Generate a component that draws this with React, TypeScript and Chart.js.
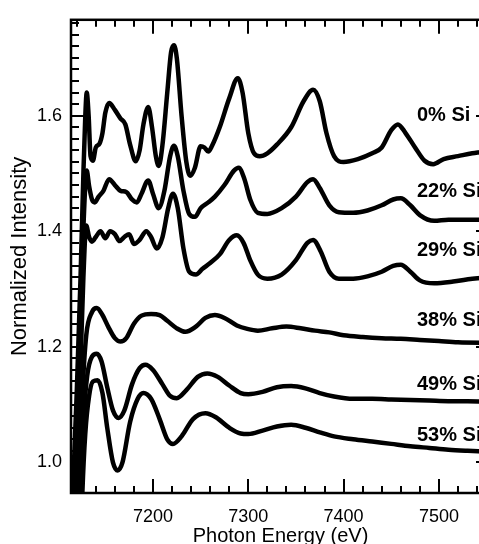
import React, { useEffect, useRef } from 'react';
import { Chart, registerables } from 'chart.js';

Chart.register(...registerables);

// ---- data ----
const seriesNames = ['0% Si', '22% Si', '29% Si', '38% Si', '49% Si', '53% Si'];

const energy0 = [7110, 7116, 7120, 7124, 7127, 7129, 7130.5, 7132.5, 7134.5, 7137, 7140, 7144, 7147, 7150, 7154, 7160, 7166, 7171, 7176, 7182, 7186, 7190, 7195, 7199, 7203, 7206, 7210, 7215, 7219, 7222, 7225, 7230, 7235, 7239, 7244, 7250, 7254, 7258, 7262, 7270, 7280, 7289, 7294, 7300, 7306, 7312, 7320, 7330, 7345, 7358, 7368, 7375, 7382, 7390, 7400, 7415, 7430, 7440, 7450, 7457, 7465, 7475, 7485, 7494, 7505, 7520, 7535, 7555];
const intensity0 = [0.60, 0.95, 1.12, 1.32, 1.50, 1.60, 1.64, 1.60, 1.53, 1.522, 1.545, 1.552, 1.57, 1.605, 1.622, 1.61, 1.595, 1.585, 1.55, 1.521, 1.54, 1.585, 1.615, 1.58, 1.53, 1.513, 1.55, 1.64, 1.71, 1.722, 1.70, 1.60, 1.52, 1.496, 1.51, 1.547, 1.545, 1.538, 1.548, 1.58, 1.63, 1.665, 1.64, 1.57, 1.535, 1.53, 1.535, 1.55, 1.58, 1.625, 1.645, 1.625, 1.57, 1.53, 1.52, 1.525, 1.535, 1.545, 1.575, 1.585, 1.57, 1.545, 1.522, 1.516, 1.525, 1.53, 1.535, 1.538];

const energy22 = [7112, 7118, 7122, 7126, 7129, 7130.5, 7133, 7136, 7139, 7143, 7148, 7154, 7160, 7166, 7172, 7178, 7183, 7188, 7195, 7200, 7206, 7212, 7218, 7222, 7226, 7232, 7238, 7244, 7250, 7258, 7265, 7275, 7285, 7290, 7296, 7302, 7310, 7320, 7335, 7350, 7362, 7368, 7375, 7385, 7395, 7410, 7425, 7440, 7452, 7460, 7470, 7480, 7495, 7510, 7530, 7555];
const intensity22 = [0.60, 0.95, 1.15, 1.36, 1.48, 1.505, 1.478, 1.455, 1.45, 1.46, 1.47, 1.49, 1.48, 1.47, 1.468, 1.455, 1.45, 1.465, 1.488, 1.465, 1.44, 1.47, 1.53, 1.548, 1.53, 1.47, 1.43, 1.425, 1.44, 1.45, 1.46, 1.48, 1.505, 1.51, 1.49, 1.455, 1.432, 1.43, 1.44, 1.46, 1.485, 1.49, 1.475, 1.445, 1.433, 1.432, 1.436, 1.445, 1.455, 1.457, 1.445, 1.428, 1.418, 1.42, 1.42, 1.42];

const energy29 = [7114, 7120, 7124, 7127, 7130, 7133, 7136, 7140, 7145, 7150, 7155, 7160, 7165, 7170, 7175, 7180, 7186, 7193, 7198, 7204, 7210, 7216, 7221, 7226, 7232, 7238, 7245, 7252, 7260, 7270, 7280, 7288, 7295, 7302, 7310, 7320, 7335, 7350, 7362, 7368, 7376, 7385, 7395, 7410, 7425, 7440, 7452, 7460, 7470, 7480, 7495, 7515, 7535, 7555];
const intensity29 = [0.60, 0.95, 1.17, 1.32, 1.41, 1.39, 1.382, 1.39, 1.40, 1.388, 1.40, 1.395, 1.383, 1.39, 1.395, 1.378, 1.385, 1.40, 1.39, 1.37, 1.39, 1.44, 1.465, 1.44, 1.37, 1.33, 1.325, 1.335, 1.345, 1.36, 1.385, 1.393, 1.38, 1.35, 1.325, 1.318, 1.325, 1.35, 1.38, 1.385, 1.365, 1.33, 1.318, 1.318, 1.322, 1.33, 1.34, 1.342, 1.33, 1.315, 1.31, 1.313, 1.318, 1.32];

const energy38 = [7116, 7122, 7126, 7130, 7136, 7141, 7147, 7153, 7160, 7166, 7172, 7180, 7188, 7198, 7207, 7215, 7225, 7234, 7245, 7255, 7265, 7275, 7288, 7299, 7310, 7325, 7340, 7355, 7370, 7385, 7400, 7420, 7440, 7460, 7480, 7500, 7520, 7555];
const intensity38 = [0.60, 0.95, 1.12, 1.22, 1.26, 1.267, 1.255, 1.235, 1.215, 1.209, 1.215, 1.24, 1.254, 1.257, 1.255, 1.245, 1.232, 1.226, 1.235, 1.25, 1.255, 1.25, 1.237, 1.231, 1.228, 1.232, 1.235, 1.232, 1.228, 1.225, 1.22, 1.217, 1.215, 1.214, 1.212, 1.21, 1.208, 1.207];

const energy49 = [7118, 7124, 7127, 7131, 7136, 7141, 7146, 7152, 7158, 7164, 7170, 7178, 7186, 7192, 7200, 7210, 7218, 7225, 7235, 7247, 7257, 7268, 7280, 7292, 7300, 7315, 7330, 7345, 7360, 7375, 7390, 7410, 7430, 7450, 7470, 7490, 7510, 7530, 7555];
const intensity49 = [0.60, 0.95, 1.07, 1.15, 1.183, 1.188, 1.175, 1.13, 1.09, 1.077, 1.09, 1.135, 1.163, 1.169, 1.16, 1.135, 1.115, 1.111, 1.125, 1.148, 1.154, 1.148, 1.133, 1.12, 1.118, 1.122, 1.13, 1.132, 1.128, 1.12, 1.114, 1.11, 1.11, 1.109, 1.108, 1.107, 1.106, 1.106, 1.105];

const energy53 = [7120, 7126, 7129, 7133, 7137, 7142, 7147, 7152, 7158, 7163, 7168, 7176, 7184, 7190, 7198, 7207, 7215, 7221, 7230, 7242, 7255, 7266, 7280, 7292, 7300, 7315, 7330, 7345, 7360, 7375, 7390, 7410, 7430, 7450, 7470, 7490, 7510, 7530, 7555];
const intensity53 = [0.60, 0.95, 1.05, 1.115, 1.14, 1.142, 1.12, 1.06, 1.00, 0.986, 1.00, 1.07, 1.11, 1.12, 1.11, 1.075, 1.04, 1.032, 1.045, 1.075, 1.085, 1.078, 1.06, 1.05, 1.049, 1.055, 1.062, 1.065, 1.06, 1.052, 1.045, 1.04, 1.036, 1.032, 1.028, 1.025, 1.022, 1.02, 1.018];

const seriesEnergy = [energy0, energy22, energy29, energy38, energy49, energy53];
const seriesIntensity = [intensity0, intensity22, intensity29, intensity38, intensity49, intensity53];

const labelEnergy = 7477;
const labelIntensity = [1.601, 1.468, 1.3675, 1.246, 1.135, 1.046];

const energyTicks = [7200, 7300, 7400, 7500];
const intensityTicks = [1.0, 1.2, 1.4, 1.6];
const energyMin = 7114;
const energyMax = 7553.6;
const intensityMin = 0.947;
const intensityMax = 1.766;
const energyMinorStep = 20;
const energyMajorStep = 100;
const intensityMinorStep = 0.02;
const intensityMajorEvery = 10;

const FONT = '"Liberation Sans", Arial, Helvetica, sans-serif';

const framePlugin = {
  id: 'frameTicks',
  afterDatasetsDraw(chart: any) {
    const { ctx, scales } = chart;
    const x = scales.x;
    const y = scales.y;
    ctx.save();
    ctx.fillStyle = '#000';
    ctx.font = `bold 20px ${FONT}`;
    ctx.textAlign = 'left';
    ctx.textBaseline = 'middle';
    seriesNames.forEach((name, i) => {
      ctx.fillText(name, x.getPixelForValue(labelEnergy), y.getPixelForValue(labelIntensity[i]));
    });
    ctx.restore();
  },
  afterDraw(chart: any) {
    const { ctx, chartArea, scales } = chart;
    const { left, right, top, bottom } = chartArea;
    const x = scales.x;
    const y = scales.y;
    ctx.save();
    ctx.strokeStyle = '#000';
    ctx.lineWidth = 2;
    ctx.lineCap = 'butt';
    const kx0 = Math.ceil(energyMin / energyMinorStep);
    const kx1 = Math.floor(energyMax / energyMinorStep);
    for (let k = kx0; k <= kx1; k++) {
      const e = k * energyMinorStep;
      const px = Math.round(x.getPixelForValue(e));
      const major = e % energyMajorStep === 0;
      const len = major ? 14 : 7;
      ctx.beginPath();
      ctx.moveTo(px, bottom);
      ctx.lineTo(px, bottom - len);
      ctx.moveTo(px, top);
      ctx.lineTo(px, top + len);
      ctx.stroke();
    }
    const ky0 = Math.ceil(intensityMin / intensityMinorStep - 1e-6);
    const ky1 = Math.floor(intensityMax / intensityMinorStep + 1e-6);
    for (let k = ky0; k <= ky1; k++) {
      const v = k * intensityMinorStep;
      const py = Math.round(y.getPixelForValue(v));
      const major = k % intensityMajorEvery === 0;
      const len = major ? 14 : 8;
      ctx.beginPath();
      ctx.moveTo(left, py);
      ctx.lineTo(left + len, py);
      ctx.moveTo(right, py);
      ctx.lineTo(right - len, py);
      ctx.stroke();
    }
    ctx.lineWidth = 2.5;
    ctx.strokeRect(left, top, right - left, bottom - top);
    ctx.restore();
  },
};

export default function App() {
  const ref = useRef<HTMLCanvasElement>(null);

  useEffect(() => {
    const canvas = ref.current;
    if (!canvas) return;
    const datasets = seriesNames.map((name, i) => ({
      label: name,
      data: seriesEnergy[i].map((e, j) => ({ x: e, y: seriesIntensity[i][j] })),
      borderColor: '#000',
      backgroundColor: '#000',
      borderWidth: 4.5,
      pointRadius: 0,
      pointHoverRadius: 0,
      fill: false,
      cubicInterpolationMode: 'monotone' as const,
      borderCapStyle: 'round' as const,
      borderJoinStyle: 'round' as const,
    }));

    const chart = new Chart(canvas, {
      type: 'line',
      data: { datasets },
      options: {
        animation: false,
        responsive: false,
        devicePixelRatio: 1,
        events: [],
        layout: { padding: { top: 14, right: 10, left: 0, bottom: 0 } },
        plugins: {
          legend: { display: false },
          tooltip: { enabled: false },
          title: { display: false },
        },
        scales: {
          x: {
            type: 'linear',
            min: energyMin,
            max: energyMax,
            afterFit: (s: any) => { s.height = 51; },
            afterBuildTicks: (s: any) => { s.ticks = energyTicks.map((v) => ({ value: v })); },
            grid: { display: false, drawTicks: false },
            border: { display: false },
            ticks: {
              color: '#000',
              font: { family: FONT, size: 18 },
              padding: 13,
              maxRotation: 0,
              autoSkip: false,
              callback: (v: any) => String(v),
            },
            title: {
              display: true,
              text: 'Photon Energy (eV)',
              color: '#000',
              font: { family: FONT, size: 20, lineHeight: 1 },
              padding: { top: 0, bottom: -2 },
            },
          },
          y: {
            type: 'linear',
            min: intensityMin,
            max: intensityMax,
            afterFit: (s: any) => { s.width = 71; },
            afterBuildTicks: (s: any) => { s.ticks = intensityTicks.map((v) => ({ value: v })); },
            grid: { display: false, drawTicks: false },
            border: { display: false },
            ticks: {
              color: '#000',
              font: { family: FONT, size: 18 },
              padding: 9,
              autoSkip: false,
              callback: (v: any) => Number(v).toFixed(1),
            },
            title: {
              display: true,
              text: 'Normalized Intensity',
              color: '#000',
              font: { family: FONT, size: 22, lineHeight: 1 },
              padding: { top: 9, bottom: 0 },
            },
          },
        },
      },
      plugins: [framePlugin],
    });
    return () => chart.destroy();
  }, []);

  return (
    <div style={{ position: 'fixed', left: 0, top: 0, width: 479, height: 544, overflow: 'hidden', background: '#fff' }}>
      <div style={{ width: 500, height: 544 }}>
        <canvas ref={ref} width={500} height={544} style={{ display: 'block', width: 500, height: 544 }} />
      </div>
    </div>
  );
}
